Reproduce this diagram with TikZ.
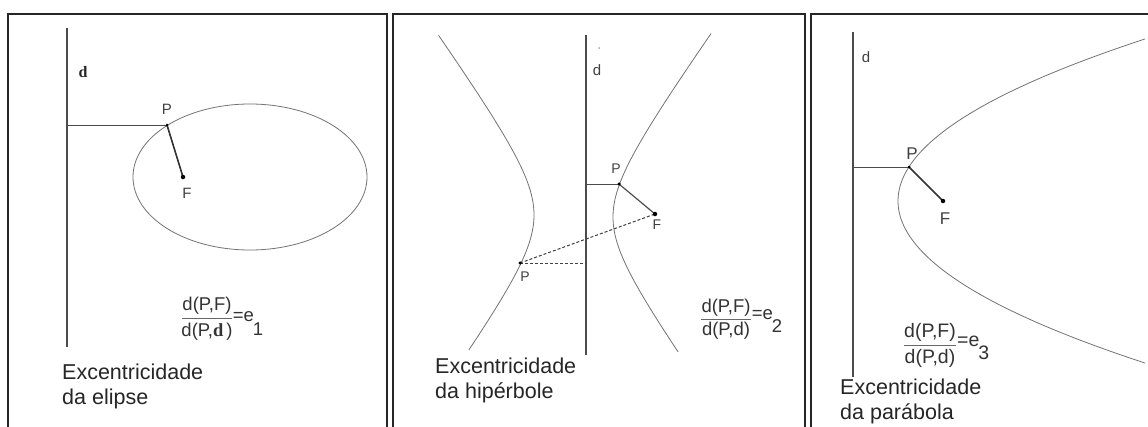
\documentclass[tikz,border=0pt]{standalone}
\usepackage{fontspec}
\setmainfont{Liberation Sans}
\newfontfamily\serifd{Liberation Serif}
\tikzset{
  frame/.style={draw=black!85, line width=1.6pt},
  dline/.style={draw=black!70, line width=2.5pt},
  curve/.style={draw=black!55, line width=0.8pt},
  perp/.style={draw=black!70, line width=1pt},
  focal/.style={draw=black!80, line width=1.6pt},
  dashline/.style={draw=black!75, line width=1pt, dash pattern=on 3pt off 2pt},
  lbl/.style={text=black!75, font=\fontsize{15}{17}\selectfont, inner sep=0pt},
  big/.style={text=black!85, font=\fontsize{21.5}{25}\selectfont, inner sep=0pt, anchor=west, align=left},
  fpart/.style={text=black!80, font=\fontsize{18.5}{20}\selectfont, inner sep=0pt},
  fbar/.style={draw=black!60, line width=0.8pt},
  dot/.style={circle, fill=black, inner sep=0pt, minimum size=4.5pt}
}
\begin{document}
\begin{tikzpicture}[x=1pt,y=-1pt]
\useasboundingbox (0,0) rectangle (1148,426);
\fill[white] (0,0) rectangle (1148,426);
% frames
\draw[frame] (8,440) -- (8,14) -- (387,14) -- (387,440);
\draw[frame] (393,440) -- (393,14) -- (805,14) -- (805,440);
\draw[frame] (811,440) -- (811,14) -- (1160,14);

% ---------- Panel 1: ellipse ----------
\coordinate (d1t) at (67,28);
\coordinate (d1b) at (67,347);
\draw[dline] (d1t) -- (d1b);
\node[text=black!85, inner sep=0pt, font=\serifd\bfseries\fontsize{16}{18}\selectfont] (d1) at (83,72) {d};
\coordinate (E1) at (250,177);
\draw[curve] (E1) ellipse [x radius=117, y radius=73];
\coordinate (P1) at (167,125);
\coordinate (H1) at (67,125);
\coordinate (F1) at (183,177);
\draw[perp] (H1) -- (P1);
\draw[focal] (P1) -- (F1);
\node[dot, minimum size=3pt] (p1dot) at (P1) {};
\node[dot] (f1dot) at (F1) {};
\node[lbl] (P1l) at (167,109) {P};
\node[lbl] (F1l) at (187,193) {F};
\node[fpart] (n1) at (207,306) {d(P,F)};
\node[fpart] (m1) at (207,332) {d(P,{\serifd\bfseries d}\,)};
\draw[fbar] (n1.south west |- 0,318) coordinate (b1a) -- (n1.south east |- 0,318) coordinate (b1b);
\node[fpart, anchor=west] (e1) at ([xshift=1pt]b1b |- 0,317) {=e};
\node[fpart, anchor=west] (s1) at ([xshift=-1.5pt]e1.east |- 0,329) {1};
\node[big] (t1) at (62,386) {Excentricidade\\da elipse};

% ---------- Panel 2: hyperbola ----------
\coordinate (d2t) at (586,35);
\coordinate (d2b) at (586,355);
\draw[dline] (d2t) -- (d2b);
\node[lbl] (d2) at (597,70) {d};
\node[circle, fill=black!60, inner sep=0pt, minimum size=1.5pt] (d2dot) at (599,48) {};
\draw[curve] plot[domain=-1.9:1.63, samples=80, smooth] ({573.5-39.5*cosh(\x)}, {215+55*sinh(\x)});
\draw[curve] plot[domain=-1.92:1.63, samples=80, smooth] ({573.5+39.5*cosh(\x)}, {217+55*sinh(\x)});
\coordinate (P2) at (619,184);
\coordinate (H2) at (586,184);
\coordinate (F2) at (655,214);
\coordinate (Q2) at (520,263);
\coordinate (K2) at (586,263);
\draw[perp] (H2) -- (P2);
\draw[perp, line width=1.2pt] (P2) -- (F2);
\draw[dashline] (Q2) -- (F2);
\draw[dashline] (Q2) -- (K2);
\node[dot, minimum size=3.5pt] (p2dot) at (P2) {};
\node[dot] (f2dot) at (F2) {};
\node[dot, minimum size=3.5pt] (q2dot) at (Q2) {};
\node[lbl, font=\fontsize{14}{16}\selectfont] (P2l) at (616,169) {P};
\node[lbl, font=\fontsize{14}{16}\selectfont] (F2l) at (657,225) {F};
\node[lbl, font=\fontsize{14}{16}\selectfont] (Q2l) at (525,277) {P};
\node[fpart] (n2) at (726,308) {d(P,F)};
\node[fpart] (m2) at (726,331) {d(P,d)};
\draw[fbar] (n2.south west |- 0,319) coordinate (b2a) -- (n2.south east |- 0,319) coordinate (b2b);
\node[fpart, anchor=west] (e2) at ([xshift=1pt]b2b |- 0,315) {=e};
\node[fpart, anchor=west] (s2) at ([xshift=-1.5pt]e2.east |- 0,326) {2};
\node[big] (t2) at (435,380) {Excentricidade\\da hipérbole};

% ---------- Panel 3: parabola ----------
\coordinate (d3t) at (853,32);
\coordinate (d3b) at (853,377);
\draw[dline] (d3t) -- (d3b);
\node[lbl] (d3) at (866,57) {d};
\draw[curve] plot[domain=39:363, samples=100, smooth] ({898+0.941*((\x-201)/10)^2}, \x);
\coordinate (P3) at (909,167);
\coordinate (H3) at (853,167);
\coordinate (F3) at (943,201);
\draw[perp] (H3) -- (P3);
\draw[focal] (P3) -- (F3);
\node[dot, minimum size=3pt] (p3dot) at (P3) {};
\node[dot] (f3dot) at (F3) {};
\node[lbl, font=\fontsize{17}{19}\selectfont] (P3l) at (912,154) {P};
\node[lbl, font=\fontsize{17}{19}\selectfont] (F3l) at (945,219) {F};
\node[fpart, font=\fontsize{19.5}{21}\selectfont] (n3) at (930,332) {d(P,F)};
\node[fpart, font=\fontsize{19.5}{21}\selectfont] (m3) at (930,358) {d(P,d)};
\draw[fbar] (n3.south west |- 0,345) coordinate (b3a) -- (n3.south east |- 0,345) coordinate (b3b);
\node[fpart, anchor=west, font=\fontsize{19.5}{21}\selectfont] (e3) at ([xshift=1pt]b3b |- 0,341) {=e};
\node[fpart, anchor=west, font=\fontsize{19.5}{21}\selectfont] (s3) at ([xshift=-1.5pt]e3.east |- 0,353) {3};
\node[big] (t3) at (840,401) {Excentricidade\\da parábola};
\end{tikzpicture}
\end{document}
